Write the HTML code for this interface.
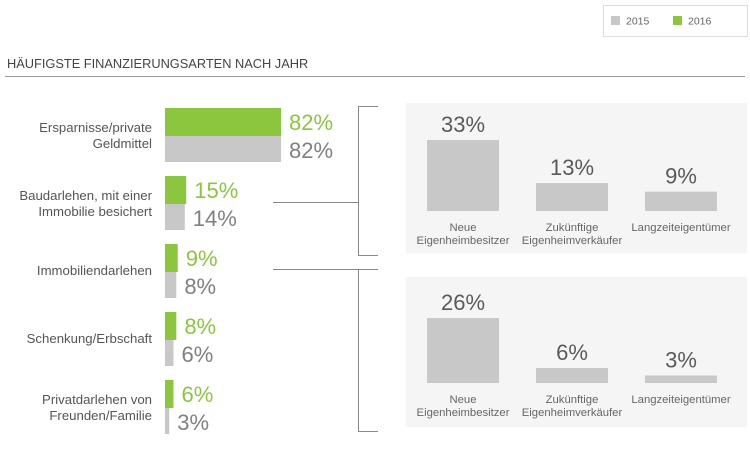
<!DOCTYPE html>
<html><head><meta charset="utf-8">
<style>
body{margin:0;width:750px;height:449px;background:#fff;overflow:hidden;font-family:"Liberation Sans",sans-serif;}
svg{display:block}
</style></head>
<body>
<svg id="c" width="750" height="449">
  <g>
    <rect x="603.5" y="5.5" width="144" height="31" fill="#fff" stroke="#ddd"/>
    <rect x="611" y="16" width="9" height="9" fill="#c8c8c8"/>
    <text x="626" y="24.5" font-size="10.5" fill="#666">2015</text>
    <rect x="673" y="16" width="9" height="9" fill="#8cc63f"/>
    <text x="688" y="24.5" font-size="10.5" fill="#666">2016</text>
  </g>
  <text x="7" y="68" font-size="12.8" fill="#444">HÄUFIGSTE FINANZIERUNGSARTEN NACH JAHR</text>
  <line x1="5" y1="76.5" x2="745" y2="76.5" stroke="#999"/>
  <g fill="none" stroke="#888" stroke-width="1">
    <polyline points="378,106.5 358.5,106.5 358.5,255.5 378,255.5"/>
    <line x1="273" y1="202.5" x2="358" y2="202.5"/>
    <polyline points="273,269.5 378,269.5"/>
    <polyline points="358.5,269.5 358.5,431.5 378,431.5"/>
  </g>
  <rect x="406" y="103" width="341" height="150" fill="#f5f5f5"/>
  <rect x="406" y="277" width="341" height="150" fill="#f5f5f5"/>
  <g id="left"></g>
  <g id="right"></g>
</svg>
<script>
const categories=["Ersparnisse/private|Geldmittel","Baudarlehen, mit einer|Immobilie besichert","Immobiliendarlehen","Schenkung/Erbschaft","Privatdarlehen von|Freunden/Familie"];
const values2016=[82,15,9,8,6];
const values2015=[82,14,8,6,3];
const groupCats=["Neue|Eigenheimbesitzer","Zukünftige|Eigenheimverkäufer","Langzeiteigentümer"];
const panelTop=[33,13,9];
const panelBottom=[26,6,3];

const NS="http://www.w3.org/2000/svg";
function mk(t,a,p){const e=document.createElementNS(NS,t);for(const k in a)e.setAttribute(k,a[k]);p.appendChild(e);return e;}
const xL=v=>v*1.415;
const L=document.getElementById('left');
categories.forEach((c,i)=>{
  const top=108+i*68;
  const lines=c.split('|');
  lines.forEach((ln,j)=>{
    const t=mk('text',{x:152,y:top+27+(lines.length==1?4:(j==0?-3:13)),'text-anchor':'end','font-size':13.2,fill:'#555'},L);
    t.textContent=ln;
    
    
  });
  const g=mk('rect',{x:165,y:top,width:xL(values2016[i]),height:28,fill:'#8cc63f'},L);
  
  
  const s=mk('rect',{x:165,y:top+28,width:xL(values2015[i]),height:26,fill:'#c8c8c8'},L);
  
  
  const t1=mk('text',{x:165+xL(values2016[i])+8,y:top+22,'font-size':22,fill:'#8cc63f'},L);
  t1.textContent=values2016[i]+'%';
  
  
  const t2=mk('text',{x:165+xL(values2015[i])+8,y:top+50,'font-size':22,fill:'#808080'},L);
  t2.textContent=values2015[i]+'%';
  
  
});
const R=document.getElementById('right');
function panel(vals,base,scale,labY){
  vals.forEach((v,i)=>{
    const x=427+i*109, h=v*scale;
    const r=mk('rect',{x:x,y:base-h,width:72,height:h,fill:'#c8c8c8'},R);
    
    
    const t=mk('text',{x:x+36,y:base-h-8,'text-anchor':'middle','font-size':22,fill:'#5a5a5a'},R);
    t.textContent=v+'%';
    
    
    const lines=groupCats[i].split('|');
    lines.forEach((ln,j)=>{
      const tt=mk('text',{x:x+36,y:labY+j*13,'text-anchor':'middle','font-size':11.3,fill:'#666'},R);
      tt.textContent=ln;
      
      
    });
  });
}
panel(panelTop,211,2.15,231);
panel(panelBottom,383,2.5,403);
</script>
</body></html>
